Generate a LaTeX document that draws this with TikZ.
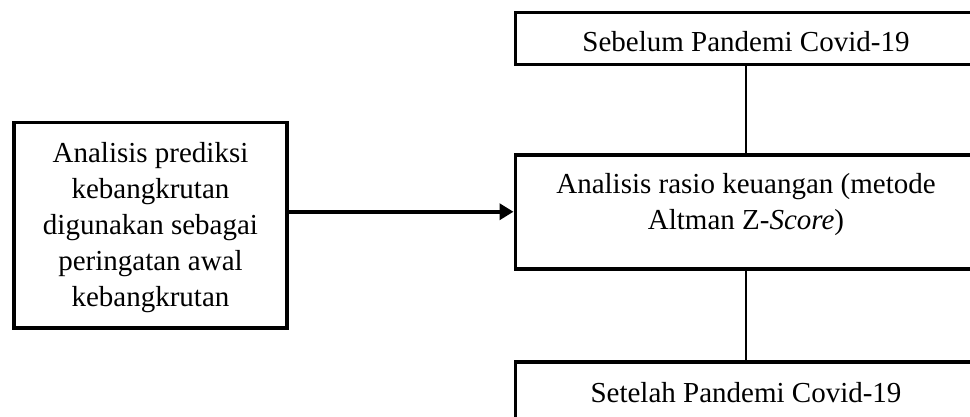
\documentclass[tikz,border=0pt]{standalone}
\usepackage{fontspec}
\setmainfont{Liberation Serif}
\usetikzlibrary{arrows.meta}
\tikzset{
  boxnode/.style={draw=black, line width=3.5pt, inner sep=0pt, outer sep=0pt, fill=none},
  txt/.style={inner sep=0pt, outer sep=0pt, align=center, font=\fontsize{29}{36}\selectfont},
  thinline/.style={draw=black, line width=1.2pt},
  mainarrow/.style={draw=black, line width=3.5pt, -{Triangle[length=14pt,width=16pt]}, shorten >=2pt}
}
\begin{document}
\begin{tikzpicture}[x=1pt,y=-1pt]
\useasboundingbox (0,0) rectangle (970,416);
\clip (0,0) rectangle (970,416);
% boxes
\node[boxnode, minimum width=273pt, minimum height=205.5pt] (left) at (150.5,225.25) {};
\node[boxnode, minimum width=461pt, minimum height=52pt] (top) at (746,38.5) {};
\node[boxnode, minimum width=461pt, minimum height=114pt] (mid) at (746,211.75) {};
\node[boxnode, minimum width=461pt, minimum height=80pt] (bot) at (746,402) {};
% texts
\node[txt, anchor=north] (lefttxt) at (150.5,142) {Analisis prediksi\\kebangkrutan\\digunakan sebagai\\peringatan awal\\kebangkrutan};
\node[txt, anchor=base] (toptxt) at (746,51) {Sebelum Pandemi Covid-19};
\node[txt, anchor=north] (midtxt) at (746,173) {Analisis rasio keuangan (metode\\Altman Z-\textit{Score})};
\node[txt, anchor=base] (bottxt) at (746,402) {Setelah Pandemi Covid-19};
% connectors
\draw[thinline] (top.south) -- (mid.north);
\draw[thinline] (mid.south) -- (bot.north);
\draw[mainarrow] (left.east |- mid.west) -- (mid.west);
\end{tikzpicture}
\end{document}
